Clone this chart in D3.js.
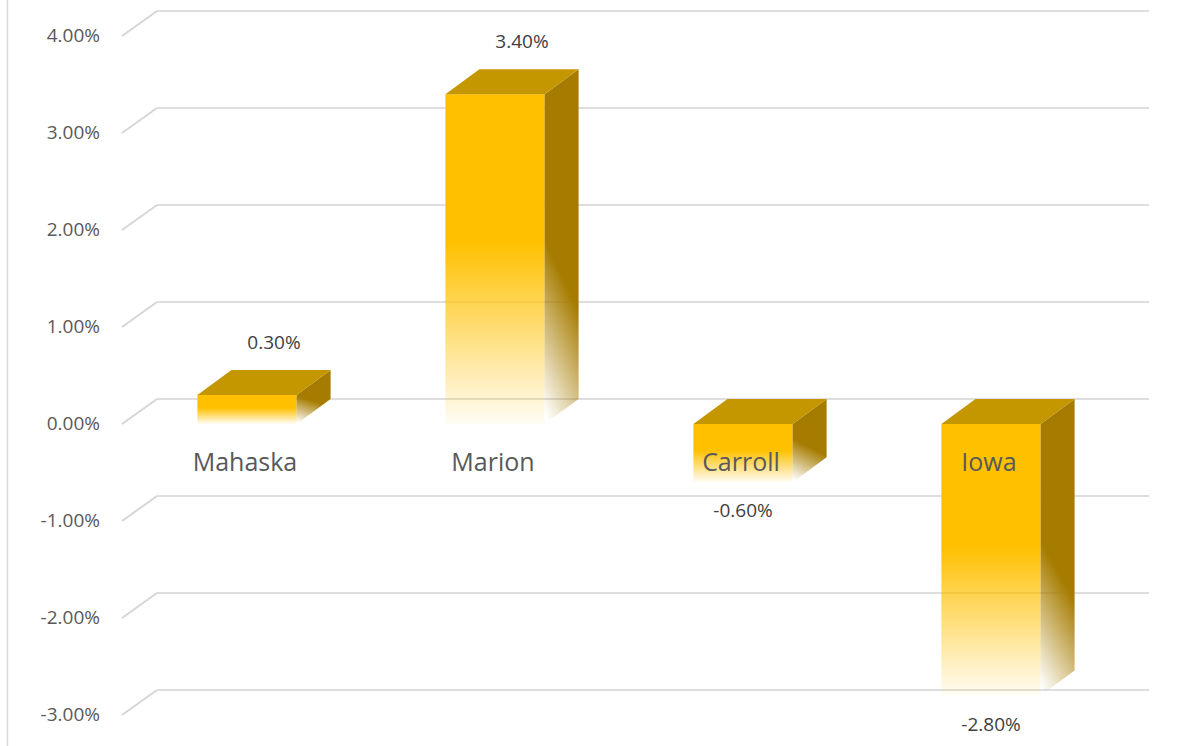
<!DOCTYPE html>
<html>
<head>
<meta charset="utf-8">
<script src="https://cdn.jsdelivr.net/npm/d3@7/dist/d3.min.js"></script>
<style>
  html, body { margin: 0; padding: 0; background: #fff; }
  svg { display: block; }
  text { font-family: "Open Sans", sans-serif; }
</style>
</head>
<body>
<svg id="chart" width="1183" height="746"></svg>
<script>
// Percent change by area
const categories = ["Mahaska", "Marion", "Carroll", "Iowa"];
const values = [0.30, 3.40, -0.60, -2.80];
const valueLabels = ["0.30%", "3.40%", "-0.60%", "-2.80%"];
const tickValues = [4, 3, 2, 1, 0, -1, -2, -3];
const tickLabels = ["4.00%", "3.00%", "2.00%", "1.00%", "0.00%", "-1.00%", "-2.00%", "-3.00%"];

const W = 1183, H = 746;
const svg = d3.select("#chart");

// Back wall geometry and the perspective offset to the front plane
const back = { left: 157, right: 1149, top: 11, bottom: 690 };
const depth = { x: 34, y: 25 };

const y = d3.scaleLinear().domain([-3, 4]).range([back.bottom, back.top]);
const x = d3.scaleBand().domain(categories)
  .range([back.left - depth.x, back.right - depth.x])
  .paddingInner(0.6).paddingOuter(0.3);

const yF = v => y(v) + depth.y;   // front-plane y

// chart area left border
svg.append("line")
  .attr("x1", 7.5).attr("x2", 7.5).attr("y1", 0).attr("y2", H)
  .attr("stroke", "#d9d9d9").attr("stroke-width", 1.5);

// gradients for the faded column faces
const defs = svg.append("defs");
const frontGrad = defs.append("linearGradient").attr("id", "frontFade")
  .attr("x1", 0).attr("y1", 0).attr("x2", 0).attr("y2", 1);
[[0, 1], [0.45, 1], [1, 0.04]].forEach(([o, a]) =>
  frontGrad.append("stop").attr("offset", o).attr("stop-color", "#ffc000").attr("stop-opacity", a));
const sideGrad = defs.append("linearGradient").attr("id", "sideFade")
  .attr("x1", 0.2).attr("y1", 0).attr("x2", 0).attr("y2", 1);
[[0, 1], [0.5, 1], [0.97, 0.0]].forEach(([o, a]) =>
  sideGrad.append("stop").attr("offset", o).attr("stop-color", "#a67c00").attr("stop-opacity", a));

// gridlines on back wall plus side-wall diagonals
const grid = svg.append("g");
tickValues.forEach(v => {
  grid.append("line")
    .attr("x1", back.left).attr("x2", back.right)
    .attr("y1", y(v)).attr("y2", y(v))
    .attr("stroke", "#dedede").attr("stroke-width", 2);
  grid.append("line")
    .attr("x1", back.left).attr("x2", back.left - depth.x - 1)
    .attr("y1", y(v)).attr("y2", yF(v))
    .attr("stroke", "#d6d6d6").attr("stroke-width", 2);
});

// value axis labels
svg.append("g").selectAll("text").data(tickValues).join("text")
  .attr("x", 100).attr("y", d => yF(d) + 1)
  .attr("text-anchor", "end").attr("dominant-baseline", "middle")
  .attr("font-size", 19).attr("fill", "#595959")
  .text((d, i) => tickLabels[i]);

// columns
const bars = svg.append("g");
categories.forEach((c, i) => {
  const v = values[i];
  const x0 = x(c), w = x.bandwidth();
  const top = yF(Math.max(v, 0)), bot = yF(Math.min(v, 0));
  const g = bars.append("g");
  g.append("rect")
    .attr("x", x0).attr("y", top).attr("width", w).attr("height", bot - top)
    .attr("fill", "url(#frontFade)");
  g.append("path")
    .attr("d", `M${x0 + w},${top} L${x0 + w + depth.x},${top - depth.y} L${x0 + w + depth.x},${bot - depth.y} L${x0 + w},${bot} Z`)
    .attr("fill", "url(#sideFade)");
  g.append("path")
    .attr("d", `M${x0},${top} L${x0 + depth.x},${top - depth.y} L${x0 + w + depth.x},${top - depth.y} L${x0 + w},${top} Z`)
    .attr("fill", "#c49600");
});

// category labels
svg.append("g").selectAll("text").data(categories).join("text")
  .attr("x", d => x(d) + x.bandwidth() / 2 - 2)
  .attr("y", yF(0) + 40)
  .attr("text-anchor", "middle").attr("dominant-baseline", "middle")
  .attr("font-size", 25).attr("fill", "#595959")
  .text(d => d);

// data labels
svg.append("g").selectAll("text").data(categories).join("text")
  .attr("x", (d, i) => x(d) + x.bandwidth() / 2 + (values[i] >= 0 ? 27 : 0))
  .attr("y", (d, i) => values[i] >= 0 ? y(values[i]) - 26 : yF(values[i]) + 30)
  .attr("text-anchor", "middle").attr("dominant-baseline", "middle")
  .attr("font-size", 19).attr("fill", "#404040")
  .text((d, i) => valueLabels[i]);
</script>
</body>
</html>
